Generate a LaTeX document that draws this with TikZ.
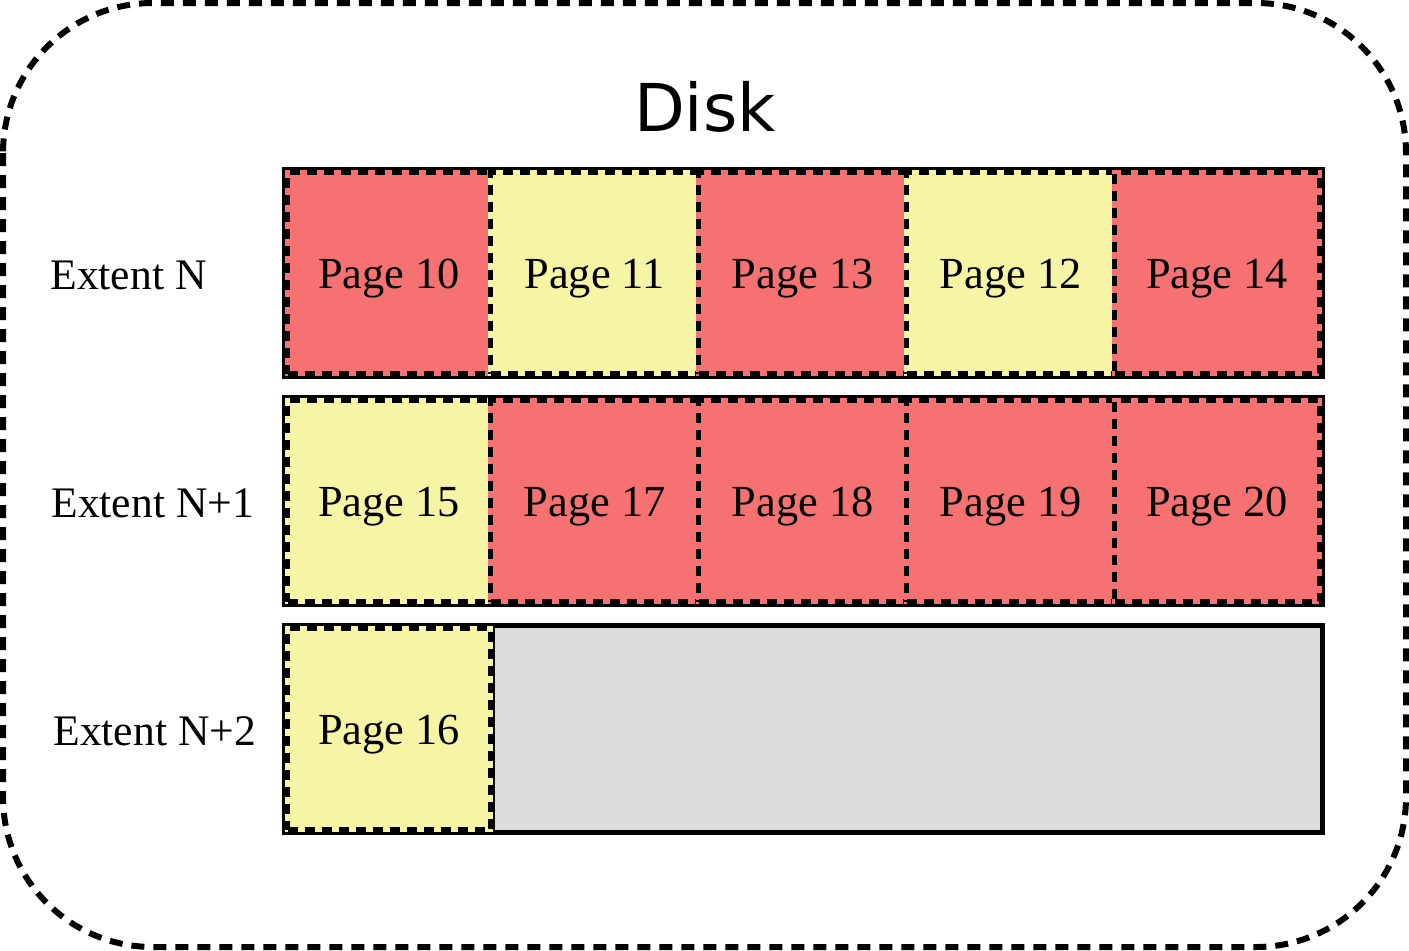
\documentclass[tikz,border=0pt]{standalone}
\usepackage{fontspec}
\setmainfont{Liberation Serif}
\newfontfamily\disksans{DejaVu Sans}
\definecolor{pagered}{RGB}{246,113,113}
\definecolor{pageyellow}{RGB}{245,245,165}
\definecolor{freegray}{RGB}{221,221,221}
\begin{document}
\begin{tikzpicture}[x=0.5pt,y=-0.5pt,
  extentbox/.style={draw=black, line width=1.6pt, minimum width=520pt, minimum height=104.5pt, inner sep=0pt, outer sep=0pt},
  pagecell/.style={draw=black, line width=2.5pt, dash pattern=on 5pt off 3.5pt, minimum width=104pt, minimum height=100.5pt, inner sep=0pt, outer sep=0pt, text height=15pt, text depth=0pt, font=\fontsize{22.2}{27}\selectfont},
  redcell/.style={pagecell, fill=pagered, preaction={draw=pagered, solid, line width=2.5pt}},
  yellowcell/.style={pagecell, fill=pageyellow, preaction={draw=pageyellow, solid, line width=2.5pt}},
  freebox/.style={draw=black, line width=2.6pt, fill=freegray, minimum width=415pt, minimum height=103.5pt, inner sep=0pt, outer sep=0pt},
  extlabel/.style={anchor=base west, inner sep=0pt, font=\fontsize{21.8}{27}\selectfont}
]
\useasboundingbox (0,0) rectangle (1409,950);
\draw[line width=3pt, dash pattern=on 6.5pt off 4.5pt, rounded corners=75pt] (3,3) rectangle (1406,947);
\node[font=\disksans\fontsize{33}{40}\selectfont] (disk) at (705,107) {Disk};
% extents
\node[extentbox] (extN) at (803.5,273) {};
\node[extentbox] (extN1) at (803.5,501) {};
\node[extentbox] (extN2) at (803.5,729) {};
% labels
\node[extlabel] (lN) at (50,289) {Extent N};
\node[extlabel] (lN1) at (51,517) {Extent N+1};
\node[extlabel] (lN2) at (53,745) {Extent N+2};
% row 1
\node[redcell, minimum width=101.5pt] (p10) at (389,273) {Page 10};
\node[yellowcell] (p11) at (594.5,273) {Page 11};
\node[redcell] (p13) at (802.5,273) {Page 13};
\node[yellowcell] (p12) at (1010.5,273) {Page 12};
\node[redcell, minimum width=102.5pt] (p14) at (1217,273) {Page 14};
% row 2
\node[yellowcell, minimum width=101.5pt] (p15) at (389,501) {Page 15};
\node[redcell] (p17) at (594.5,501) {Page 17};
\node[redcell] (p18) at (802.5,501) {Page 18};
\node[redcell] (p19) at (1010.5,501) {Page 19};
\node[redcell, minimum width=102.5pt] (p20) at (1217,501) {Page 20};
% row 3
\node[freebox] (free) at (907.5,729) {};
\node[yellowcell, minimum width=101.5pt] (p16) at (389,729) {Page 16};
\end{tikzpicture}
\end{document}
